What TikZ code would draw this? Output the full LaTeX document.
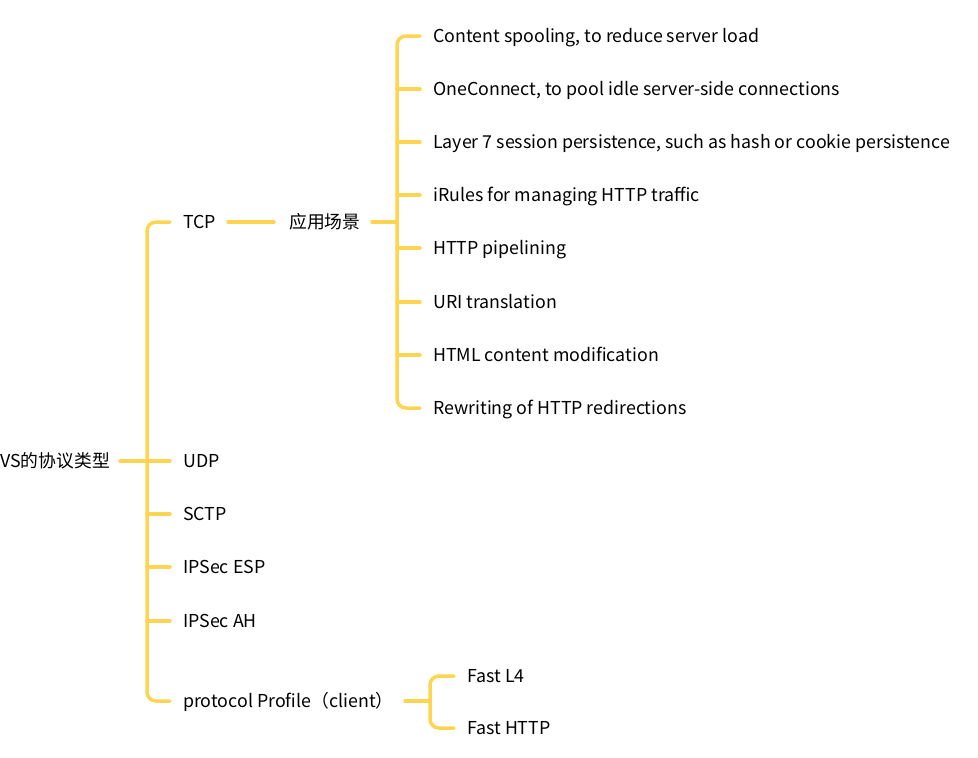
\documentclass[tikz,border=0pt]{standalone}
\usepackage{fontspec}
\setmainfont{Noto Sans CJK SC}
\definecolor{br}{RGB}{255,212,80}
\begin{document}
\begin{tikzpicture}[x=1pt,y=-1pt,
  lbl/.style={anchor=west,inner sep=0pt,text height=16pt,text depth=3pt,font=\fontsize{17.8}{20}\selectfont},
  conn/.style={draw=br,line width=3.5pt,rounded corners=9pt,line cap=round}]
\useasboundingbox (0,0) rectangle (978,758);
% root
\node[lbl] (root) at (0,461) {VS的协议类型};
% level 1
\node[lbl] (tcp) at (183,222) {TCP};
\node[lbl] (udp) at (183,461) {UDP};
\node[lbl] (sctp) at (183,514) {SCTP};
\node[lbl] (esp) at (183,567) {IPSec ESP};
\node[lbl] (ah) at (183,621) {IPSec AH};
\node[lbl] (prof) at (183,701) {protocol Profile（client）};
% level 2
\node[lbl] (app) at (289,222) {应用场景};
\node[lbl] (c1) at (433,36) {Content spooling, to reduce server load};
\node[lbl] (c2) at (433,89) {OneConnect, to pool idle server-side connections};
\node[lbl] (c3) at (433,142) {Layer 7 session persistence, such as hash or cookie persistence};
\node[lbl] (c4) at (433,195) {iRules for managing HTTP traffic};
\node[lbl] (c5) at (433,248) {HTTP pipelining};
\node[lbl] (c6) at (433,302) {URI translation};
\node[lbl] (c7) at (433,355) {HTML content modification};
\node[lbl] (c8) at (433,408) {Rewriting of HTTP redirections};
\node[lbl] (f1) at (467,676) {Fast L4};
\node[lbl] (f2) at (467,728) {Fast HTTP};
% bracket coordinates
\coordinate (b1) at (147,461);
\coordinate (b2) at (397,222);
\coordinate (b3) at (430,701);
\coordinate (r0) at (120,461);
\coordinate (t0) at (228,222);
\coordinate (t1) at (274,222);
\coordinate (a0) at (372,222);
\coordinate (p0) at (405,701);
% root bracket
\draw[conn] (r0) -- (b1);
\draw[conn] ([xshift=-13pt]tcp.west) -- (tcp.west -| b1) -- (prof.west -| b1) -- ([xshift=-13pt]prof.west);
\foreach \n in {udp,sctp,esp,ah}
  \draw[conn] (\n.west -| b1) -- ([xshift=-13pt]\n.west);
% TCP -> app
\draw[conn] (t0) -- (t1);
% app bracket
\draw[conn] (a0) -- (b2);
\draw[conn] ([xshift=-13pt]c1.west) -- (c1.west -| b2) -- (c8.west -| b2) -- ([xshift=-13pt]c8.west);
\foreach \n in {c2,c3,c4,c5,c6,c7}
  \draw[conn] (\n.west -| b2) -- ([xshift=-13pt]\n.west);
% profile bracket
\draw[conn] (p0) -- (b3);
\draw[conn] ([xshift=-13pt]f1.west) -- (f1.west -| b3) -- (f2.west -| b3) -- ([xshift=-13pt]f2.west);
\end{tikzpicture}
\end{document}
